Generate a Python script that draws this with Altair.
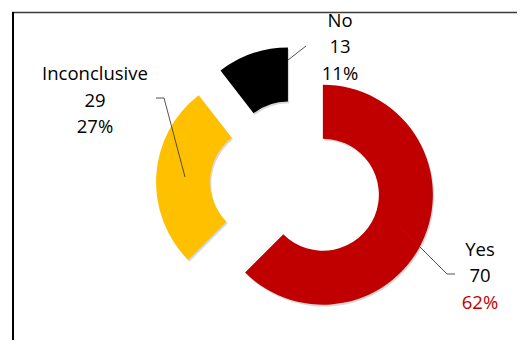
import math
import altair as alt
import pandas as pd

# ---- data ----
categories = ["Yes", "Inconclusive", "No"]
counts = [70, 29, 13]
percents = [62, 27, 11]
# slice sizes as drawn (angles measured on the picture, in % of the circle)
shares = [62.5, 27.0, 10.5]

# ---- style / layout (view pixel coordinates; view origin = page (8, 8)) ----
colors = {"Yes": "#C00000", "Inconclusive": "#FFC000", "No": "#000000"}
pct_colors = {"Yes": "#C00000", "Inconclusive": "#000000", "No": "#000000"}
explode = {"Yes": 28, "Inconclusive": 31, "No": 28}
CX, CY = 289, 176          # common pie centre before explosion
R_OUT, R_IN = 110, 56
label_pos = {"Yes": (472, 241.5), "Inconclusive": (87, 66), "No": (332, 12.5)}
LINE_H = 26.7
FONT = "Open Sans"
FS = 18.5
leaders = {
    "Yes": [(390, 217), (439, 266), (447, 266)],
    "Inconclusive": [(148, 90), (156, 90), (177, 169)],
    "No": [(280, 52), (298, 38)],
}

slices = pd.DataFrame({
    "cat": categories,
    "share": shares,
    "order": list(range(len(categories))),
    "explode": [explode[c] for c in categories],
})

W, H = 509, 332
TWO_PI = 2 * math.pi

base = alt.Chart(slices).transform_window(
    t1="sum(share)", sort=[alt.SortField("order")], frame=[None, 0]
).transform_joinaggregate(
    total="sum(share)"
).transform_calculate(
    t0="datum.t1 - datum.share",
    mid="(datum.t1 - datum.share / 2) / datum.total * 2 * PI",
).transform_calculate(
    px=f"{CX} + datum.explode * sin(datum.mid)",
    py=f"{CY} - datum.explode * cos(datum.mid)",
)

theta_scale = alt.Scale(domain=[0, sum(shares)], range=[0, TWO_PI])

shadow = base.mark_arc(outerRadius=R_OUT, innerRadius=R_IN, color="#7f7f7f", opacity=0.3).encode(
    theta=alt.Theta("t0:Q", scale=theta_scale, stack=None),
    theta2="t1:Q",
    x=alt.X("sx:Q", scale=None),
    y=alt.Y("sy:Q", scale=None),
).transform_calculate(sx="datum.px + 1.2", sy="datum.py + 1.8")

arcs = base.mark_arc(outerRadius=R_OUT, innerRadius=R_IN).encode(
    theta=alt.Theta("t0:Q", scale=theta_scale, stack=None),
    theta2="t1:Q",
    x=alt.X("px:Q", scale=None),
    y=alt.Y("py:Q", scale=None),
    color=alt.Color("cat:N", scale=alt.Scale(domain=categories, range=[colors[c] for c in categories]), legend=None),
)

# labels
rows = []
for c, n, p in zip(categories, counts, percents):
    x0, y0 = label_pos[c]
    for i, (t, col) in enumerate([(c, "#000000"), (str(n), "#000000"), (f"{p}%", pct_colors[c])]):
        rows.append({"t": t, "x": x0, "y": y0 + i * LINE_H, "col": col})
labels = alt.Chart(pd.DataFrame(rows)).mark_text(
    font=FONT, fontSize=FS, baseline="middle", align="center"
).encode(
    x=alt.X("x:Q", scale=None), y=alt.Y("y:Q", scale=None),
    text="t:N", color=alt.Color("col:N", scale=None),
)

lrows = []
for c, pts in leaders.items():
    for k, (x, y) in enumerate(pts):
        lrows.append({"cat": c, "k": k, "x": x, "y": y})
lead = alt.Chart(pd.DataFrame(lrows)).mark_line(color="#404040", strokeWidth=0.9).encode(
    x=alt.X("x:Q", scale=None), y=alt.Y("y:Q", scale=None), detail="cat:N", order="k:Q"
)

frame_top = alt.Chart(pd.DataFrame({"a": [0]})).mark_rule(color="#3a3a3a", strokeWidth=1.5).encode(
    x=alt.value(4), x2=alt.value(W), y=alt.value(4.5)
)
frame_left = alt.Chart(pd.DataFrame({"a": [0]})).mark_rule(color="#000000", strokeWidth=2).encode(
    x=alt.value(5), y=alt.value(4), y2=alt.value(H)
)

chart = alt.layer(shadow, arcs, lead, labels, frame_top, frame_left).properties(
    width=W, height=H, autosize=alt.AutoSizeParams(type="none"), padding=0
).configure_view(stroke=None)

chart.save("out.html", embed_options={"renderer": "svg", "actions": False})
